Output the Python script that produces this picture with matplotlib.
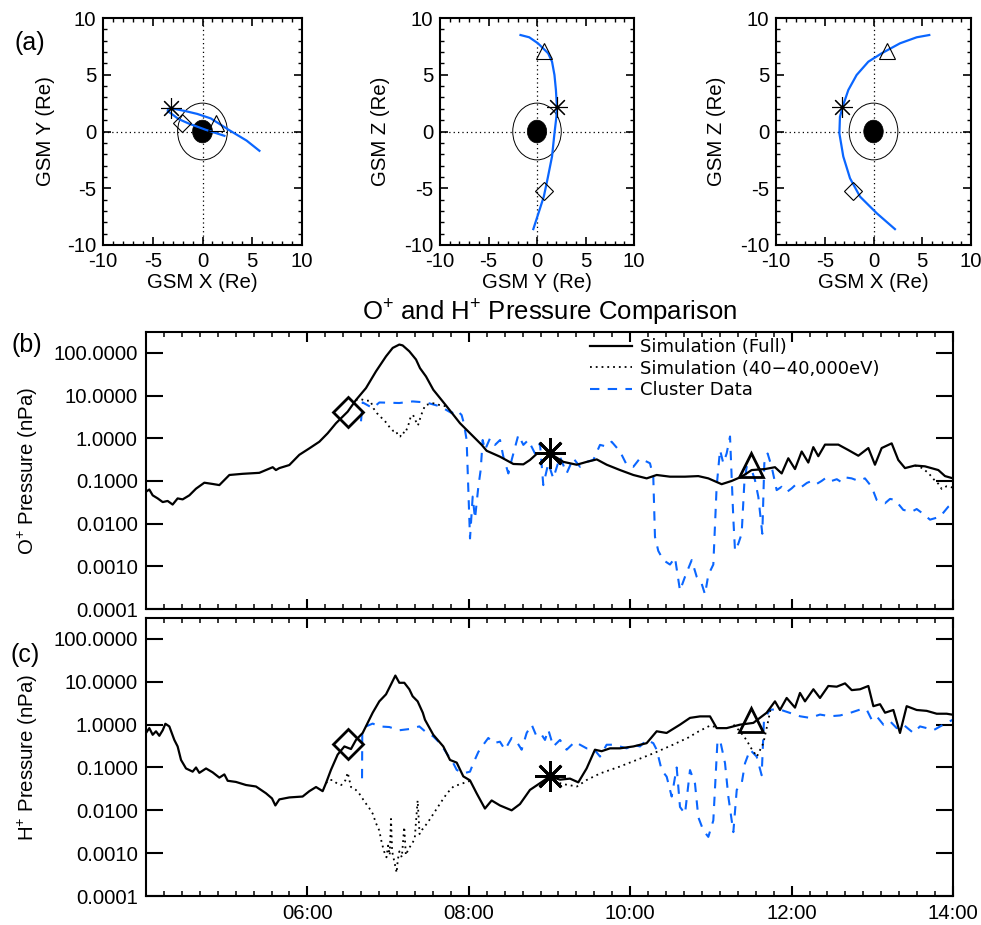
import numpy as np
import matplotlib.pyplot as plt
from matplotlib.patches import Circle
from matplotlib.lines import Line2D
from matplotlib.ticker import MultipleLocator, FixedLocator, FormatStrFormatter, NullLocator, FuncFormatter

plt.rcParams['font.family'] = ['Liberation Sans', 'DejaVu Sans']
plt.rcParams['mathtext.fontset'] = 'custom'
plt.rcParams['mathtext.rm'] = 'Liberation Sans'
plt.rcParams['mathtext.it'] = 'Liberation Sans:italic'
plt.rcParams['axes.unicode_minus'] = False

BLUE = '#0a66ff'

# ---- orbit (GSM, Re) ----
ORBIT_X = [2.2, 0.33, -1.38, -2.41, -3.1, -3.5, -3.44, -3.16, -2.58, -1.73, -0.53, 0.84, 2.72, 4.43, 5.72]
ORBIT_Y = [-0.38, 0.15, 0.7, 1.1, 1.55, 1.8, 2.0, 2.05, 1.95, 1.8, 1.55, 1.15, 0.1, -0.8, -1.7]
ORBIT_Z = [-8.6, -7.2, -5.74, -4.12, -2.2, -0.16, 1.3, 2.2, 3.66, 4.98, 6.15, 6.89, 7.77, 8.3, 8.5]

# marker positions: diamond, star, triangle
MARK_X = [-2.1, -3.2, 1.4]
MARK_Y = [0.75, 2.05, 0.75]
MARK_Z = [-5.2, 2.2, 7.05]
EARTH_R = 1.0
RING_R = 2.5

# ---- O+ pressure (nPa), time in hours UT ----
O_FULL_T = [4.0, 4.041, 4.083, 4.145, 4.207, 4.268, 4.33, 4.392, 4.454, 4.537, 4.62, 4.723, 4.826,
            4.909, 5.033, 5.198, 5.404, 5.57, 5.61, 5.652, 5.776, 5.9, 6.024, 6.148, 6.251, 6.354,
            6.499, 6.602, 6.726, 6.85, 6.974, 7.057, 7.139, 7.18, 7.263, 7.346, 7.395, 7.47, 7.56,
            7.726, 7.891, 8.056, 8.16, 8.221, 8.387, 8.552, 8.676, 8.758, 8.841, 9.006, 9.172,
            9.337, 9.461, 9.585, 9.709, 9.874, 10.039, 10.204, 10.328, 10.493, 10.679, 10.844,
            10.968, 11.133, 11.257, 11.381, 11.505, 11.67, 11.794, 11.877, 11.959, 12.042, 12.125,
            12.207, 12.269, 12.331, 12.414, 12.579, 12.703, 12.827, 12.951, 13.033, 13.116, 13.24,
            13.322, 13.405, 13.529, 13.653, 13.818, 13.901, 14.0]
O_FULL_P = [0.056, 0.063, 0.046, 0.039, 0.032, 0.034, 0.028, 0.039, 0.037, 0.046, 0.066, 0.091, 0.085,
            0.080, 0.138, 0.147, 0.155, 0.21, 0.18, 0.20, 0.236, 0.41, 0.58, 0.83, 1.31, 2.25,
            4.2, 7.9, 15, 37, 83, 131, 157, 150, 109, 70, 44, 28, 13.7,
            5.6, 2.25, 1.1, 0.70, 0.51, 0.37, 0.25, 0.245, 0.31, 0.43, 0.44, 0.28,
            0.24, 0.28, 0.32, 0.24, 0.18, 0.138, 0.115, 0.138, 0.126, 0.126, 0.13,
            0.115, 0.084, 0.10, 0.126, 0.18, 0.19, 0.21, 0.15, 0.34, 0.19, 0.49,
            0.27, 0.62, 0.38, 0.71, 0.71, 0.53, 0.39, 0.59, 0.24, 0.59, 0.76,
            0.31, 0.20, 0.23, 0.22, 0.18, 0.13, 0.115]

# 40-40,000 eV simulation, only where it departs from the full curve (nan = break)
O_SUB_T = [6.60, 6.66, 6.72, 6.78, 6.82, 6.86, 6.92, 6.98, 7.02, 7.06, 7.10, 7.12, 7.15, 7.18, 7.21,
           7.25, 7.28, 7.31, 7.34, 7.37, 7.41, 7.46, 7.56, 7.64, 7.72, np.nan,
           13.53, 13.62, 13.70, 13.76, 13.82, 13.86, 13.92, 14.0]
O_SUB_P = [7.9, 8.3, 7.6, 7.6, 5.0, 3.9, 3.0, 2.3, 1.8, 1.5, 1.5, 1.15, 1.1, 1.4, 1.3,
           2.0, 3.2, 3.5, 2.6, 2.0, 3.5, 6.0, 6.6, 6.0, 5.6, np.nan,
           0.23, 0.20, 0.15, 0.11, 0.085, 0.065, 0.075, 0.07]

O_CLU_T = [6.664, 6.685, 6.809, 6.892, 7.139, 7.304, 7.47, 7.643, 7.788, 7.85, 7.911, 7.94, 7.973,
           8.015, 8.048, 8.077, 8.118, 8.147, 8.172, 8.2, 8.263, 8.325, 8.387, 8.428, 8.49, 8.531,
           8.614, 8.676, 8.737, 8.82, 8.882, 8.923, 8.985, 9.047, 9.13, 9.212, 9.295, 9.378, 9.46,
           9.543, 9.626, 9.708, 9.77, 9.874, 9.956, 10.039, 10.121, 10.245, 10.286, 10.307, 10.348,
           10.41, 10.493, 10.555, 10.617, 10.679, 10.762, 10.824, 10.886, 10.927, 10.968, 11.03,
           11.071, 11.113, 11.154, 11.195, 11.237, 11.278, 11.299, 11.34, 11.381, 11.414, 11.443,
           11.505, 11.546, 11.588, 11.637, 11.662, 11.703, 11.753, 11.815, 11.877, 11.94, 12.001,
           12.06, 12.125, 12.19, 12.249, 12.31, 12.372, 12.43, 12.496, 12.56, 12.62, 12.68, 12.744,
           12.83, 12.909, 12.992, 13.054, 13.157, 13.22, 13.281, 13.384, 13.488, 13.55, 13.612,
           13.715, 13.839, 13.942, 14.0]
O_CLU_P = [2.5, 6.9, 5.1, 6.9, 6.7, 7.3, 6.9, 5.6, 3.9, 4.6, 3.5, 2.2, 0.91,
           0.0045, 0.043, 0.013, 0.073, 0.18, 0.91, 0.53, 1.0, 0.7, 0.91, 0.37, 0.15, 0.31,
           1.2, 0.7, 0.91, 0.44, 0.76, 0.08, 0.26, 0.115, 0.37, 0.15, 0.34, 0.215, 0.28,
           0.31, 0.7, 0.64, 0.83, 0.49, 0.24, 0.215, 0.34, 0.26, 0.126, 0.0049, 0.0023,
           0.0014, 0.0011, 0.0016, 0.00027, 0.00057, 0.0014, 0.00057, 0.00039, 0.00022, 0.00063, 0.0011,
           0.073, 0.53, 0.26, 0.44, 1.1, 0.013, 0.0023, 0.0034, 0.0058, 0.088, 0.215,
           0.18, 0.105, 0.042, 0.0058, 0.26, 0.44, 0.215, 0.061, 0.073, 0.055, 0.067,
           0.085, 0.073, 0.09, 0.1, 0.085, 0.1, 0.12, 0.1, 0.11, 0.093, 0.12, 0.115,
           0.1, 0.115, 0.073, 0.036, 0.03, 0.038, 0.036, 0.021, 0.019, 0.022, 0.018,
           0.0124, 0.0145, 0.025, 0.03]

# ---- H+ pressure (nPa) ----
H_FULL_T = [4.0, 4.041, 4.083, 4.124, 4.165, 4.207, 4.24, 4.289, 4.351, 4.392, 4.434, 4.496, 4.578,
            4.62, 4.661, 4.744, 4.826, 4.909, 4.971, 5.012, 5.115, 5.239, 5.363, 5.487, 5.561, 5.603,
            5.652, 5.776, 5.941, 6.024, 6.107, 6.189, 6.23, 6.292, 6.375, 6.458, 6.54, 6.602, 6.685,
            6.809, 6.891, 6.974, 7.036, 7.09, 7.139, 7.201, 7.263, 7.304, 7.366, 7.43, 7.457, 7.56,
            7.684, 7.767, 7.85, 7.932, 8.015, 8.097, 8.2, 8.283, 8.386, 8.531, 8.634, 8.758, 8.882,
            9.006, 9.13, 9.254, 9.357, 9.46, 9.563, 9.646, 9.75, 9.873, 10.039, 10.204, 10.328,
            10.451, 10.617, 10.741, 10.865, 10.989, 11.072, 11.195, 11.361, 11.526, 11.691, 11.794,
            11.856, 11.939, 12.042, 12.104, 12.166, 12.27, 12.352, 12.455, 12.559, 12.662, 12.745,
            12.848, 12.951, 13.013, 13.096, 13.158, 13.261, 13.343, 13.426, 13.55, 13.674, 13.798,
            13.922, 14.0]
H_FULL_P = [0.64, 0.83, 0.58, 0.70, 0.55, 0.74, 1.05, 0.91, 0.44, 0.31, 0.15, 0.095, 0.08,
            0.10, 0.075, 0.095, 0.077, 0.058, 0.069, 0.049, 0.046, 0.039, 0.036, 0.025, 0.019, 0.013,
            0.018, 0.020, 0.021, 0.028, 0.035, 0.028, 0.043, 0.088, 0.20, 0.31, 0.27, 0.44, 0.64,
            1.9, 3.5, 5.1, 8.7, 14, 9.5, 9.5, 6.7, 4.6, 3.5, 1.9, 1.3, 0.58,
            0.31, 0.15, 0.13, 0.062, 0.05, 0.025, 0.011, 0.017, 0.013, 0.010, 0.014, 0.030, 0.043,
            0.062, 0.052, 0.055, 0.045, 0.095, 0.26, 0.24, 0.28, 0.28, 0.31, 0.37, 0.70,
            0.64, 1.0, 1.44, 1.56, 1.56, 0.83, 0.83, 1.0, 1.1, 1.9, 3.5,
            2.2, 4.2, 2.5, 5.5, 3.5, 6.7, 4.2, 8.0, 7.7, 9.2, 6.4,
            6.7, 8.0, 2.7, 3.0, 1.9, 2.2, 0.64, 2.7, 2.2, 2.1, 1.8,
            1.8, 1.7]

H_SUB_T = [6.23, 6.27, 6.31, 6.37, 6.42, 6.47, 6.50, 6.54, 6.60, 6.64, 6.69, 6.73, 6.77, 6.81, 6.85,
           6.89, 6.92, 6.95, 6.98, 7.00, 7.02, 7.036, 7.05, 7.08, 7.106, 7.12, 7.14, 7.17, 7.20, 7.22,
           7.24, 7.27, 7.30, 7.33, 7.366, 7.39, 7.42, 7.45, 7.50, 7.56, 7.64, 7.73, 7.81, 7.93, 8.03,
           np.nan,
           9.006, 9.07, 9.13, 9.2, 9.34, 9.46, 9.63, 9.87, 10.08, 10.29, 10.53, 10.72, 10.85, 10.99, 11.11,
           np.nan,
           11.28, 11.36, 11.44, 11.50, 11.57, 11.65, 11.70, 11.74]
H_SUB_P = [0.043, 0.051, 0.051, 0.042, 0.039, 0.05, 0.076, 0.035, 0.03, 0.025, 0.018, 0.014, 0.011, 0.0083, 0.005,
           0.0034, 0.0018, 0.0011, 0.0008, 0.0015, 0.0009, 0.0063, 0.0011, 0.0006, 0.00035, 0.0007, 0.0011, 0.0008, 0.0041, 0.0009,
           0.0011, 0.0014, 0.0017, 0.0022, 0.017, 0.0028, 0.0035, 0.0041, 0.0055, 0.0082, 0.014, 0.025, 0.036, 0.043, 0.05,
           np.nan,
           0.062, 0.05, 0.043, 0.04, 0.036, 0.051, 0.073, 0.105, 0.15, 0.215, 0.34, 0.5, 0.7, 0.95, 0.83,
           np.nan,
           1.0, 0.7, 0.44, 0.28, 0.18, 0.37, 1.0, 2.3]

H_CLU_T = [6.677, 6.68, 6.726, 6.809, 6.891, 7.015, 7.139, 7.263, 7.387, 7.457, 7.56, 7.643, 7.726,
           7.808, 7.85, 7.932, 8.015, 8.056, 8.118, 8.18, 8.242, 8.304, 8.386, 8.448, 8.531, 8.593,
           8.655, 8.717, 8.779, 8.84, 8.903, 8.944, 8.985, 9.047, 9.13, 9.212, 9.316, 9.378, 9.46,
           9.543, 9.626, 9.708, 9.791, 9.873, 9.956, 10.039, 10.121, 10.204, 10.286, 10.328, 10.39,
           10.452, 10.514, 10.576, 10.617, 10.679, 10.741, 10.803, 10.844, 10.906, 10.968, 11.03,
           11.08, 11.113, 11.175, 11.216, 11.278, 11.32, 11.381, 11.423, 11.485, 11.567, 11.629,
           11.658, 11.733, 11.856, 11.98, 12.104, 12.228, 12.352, 12.476, 12.6, 12.724, 12.848,
           12.93, 12.992, 13.054, 13.137, 13.22, 13.302, 13.385, 13.509, 13.591, 13.674, 13.757,
           13.88, 14.0]
H_CLU_P = [0.056, 0.70, 0.91, 1.06, 0.91, 0.88, 0.74, 0.79, 0.91, 0.70, 0.53, 0.37, 0.215,
           0.126, 0.088, 0.073, 0.08, 0.126, 0.23, 0.34, 0.49, 0.37, 0.4, 0.26, 0.49, 0.4,
           0.26, 0.64, 1.0, 0.53, 0.58, 0.44, 0.76, 0.31, 0.44, 0.26, 0.4, 0.34, 0.28,
           0.28, 0.18, 0.34, 0.34, 0.31, 0.28, 0.34, 0.31, 0.44, 0.37, 0.26, 0.087,
           0.061, 0.021, 0.1, 0.012, 0.0083, 0.087, 0.042, 0.0069, 0.0034, 0.0024, 0.0058,
           0.37, 0.44, 0.126, 0.021, 0.0031, 0.03, 0.042, 0.126, 0.26, 0.18, 0.066,
           1.31, 2.25, 2.25, 1.88, 1.57, 1.44, 1.72, 1.57, 1.64, 1.88, 2.25,
           2.25, 1.31, 1.57, 1.0, 1.2, 0.83, 1.0, 0.64, 0.91, 0.83, 0.74,
           1.0, 1.31]

# marker times and values: diamond, star, triangle
MARK_T = [6.5, 9.0, 11.5]
MARK_O = [4.2, 0.44, 0.24]
MARK_H = [0.35, 0.062, 1.3]
MARKERS = ['D', (8, 2, 0), '^']

Y_TICKS = [1e-4, 1e-3, 1e-2, 1e-1, 1e0, 1e1, 1e2]
X_TICKS = [6, 8, 10, 12, 14]

fig = plt.figure(figsize=(9.81, 9.25), dpi=100)
W, H = 981.0, 925.0


def px_axes(x0, y0, x1, y1):
    return fig.add_axes([x0 / W, 1 - y1 / H, (x1 - x0) / W, (y1 - y0) / H])


def orbit_panel(ax, h, v, hm, vm, xlabel, ylabel, ylab_x):
    ax.axhline(0, color='k', ls=(0, (1, 2.5)), lw=0.9, zorder=1)
    ax.axvline(0, color='k', ls=(0, (1, 2.5)), lw=0.9, zorder=1)
    ax.add_patch(Circle((0, 0), RING_R, fill=False, ec='k', lw=0.7, zorder=2))
    ax.add_patch(Circle((0, 0), EARTH_R, fc='k', ec='k', lw=0.5, zorder=2))
    ax.plot(h, v, color=BLUE, lw=1.6, zorder=3)
    sizes = [9, 15, 12]
    for xm, ym, mk, ms in zip(hm, vm, MARKERS, sizes):
        ax.plot(xm, ym, marker=mk, ms=ms, mfc='none', mec='k', mew=0.8, ls='none', zorder=4)
    ax.set_xlim(-10, 10)
    ax.set_ylim(-10, 10)
    ax.xaxis.set_major_locator(MultipleLocator(5))
    ax.yaxis.set_major_locator(MultipleLocator(5))
    ax.xaxis.set_minor_locator(MultipleLocator(1))
    ax.yaxis.set_minor_locator(MultipleLocator(1))
    ax.tick_params(which='both', direction='in', top=True, right=True, labelsize=14.7, pad=5)
    ax.tick_params(which='major', length=6, width=1.2)
    ax.tick_params(which='minor', length=3, width=1.0)
    ax.set_xlabel(xlabel, fontsize=14.7)
    ax.set_ylabel(ylabel, fontsize=14.7)
    ax.xaxis.set_label_coords(0.5, -0.125)
    ax.yaxis.set_label_coords(ylab_x, 0.5)
    for s in ax.spines.values():
        s.set_linewidth(1.5)


ax1 = px_axes(103, 18, 302, 245)
orbit_panel(ax1, ORBIT_X, ORBIT_Y, MARK_X, MARK_Y, 'GSM X (Re)', 'GSM Y (Re)', -0.24)
ax2 = px_axes(440, 18, 634, 245)
orbit_panel(ax2, ORBIT_Y, ORBIT_Z, MARK_Y, MARK_Z, 'GSM Y (Re)', 'GSM Z (Re)', -0.258)
ax3 = px_axes(776, 18, 971, 245)
orbit_panel(ax3, ORBIT_X, ORBIT_Z, MARK_X, MARK_Z, 'GSM X (Re)', 'GSM Z (Re)', -0.256)

DASH = (4.5, 4)
DOT = (0, (1, 2.2))


def pressure_panel(ax, ft, fp, st, sp, ct, cp, mv, ylabel, show_x):
    ax.plot(ct, cp, color=BLUE, lw=1.5, dashes=DASH, zorder=2)
    ax.plot(st, sp, color='k', lw=1.3, ls=DOT, zorder=3)
    ax.plot(ft, fp, color='k', lw=1.6, zorder=4)
    sizes = [15, 22, 17]
    for tm, vm_, mk, ms in zip(MARK_T, mv, MARKERS, sizes):
        ax.plot(tm, vm_, marker=mk, ms=ms, mfc='none', mec='k', mew=2.0, ls='none', zorder=5)
    ax.set_yscale('log')
    ax.set_ylim(1e-4, 10 ** 2.49)
    ax.set_xlim(4, 14)
    ax.yaxis.set_major_locator(FixedLocator(Y_TICKS))
    ax.yaxis.set_minor_locator(NullLocator())
    ax.yaxis.set_major_formatter(FormatStrFormatter('%.4f'))
    ax.xaxis.set_major_locator(FixedLocator(X_TICKS))
    ax.xaxis.set_minor_locator(MultipleLocator(2 / 9))
    ax.xaxis.set_major_formatter(FuncFormatter(lambda h, p: '%02d:00' % int(round(h))))
    ax.tick_params(which='both', direction='in', top=True, right=True, labelsize=14.7, pad=6)
    ax.tick_params(axis='y', which='major', length=12, width=1.5)
    ax.tick_params(axis='x', which='major', length=7, width=1.5)
    ax.tick_params(axis='x', which='minor', length=3.5, width=1.1)
    if not show_x:
        ax.tick_params(axis='x', labelbottom=False)
    ax.set_ylabel(ylabel, fontsize=14.7)
    ax.yaxis.set_label_coords(-0.131, 0.5)
    for s in ax.spines.values():
        s.set_linewidth(1.5)


axb = px_axes(146, 332, 953, 609)
pressure_panel(axb, O_FULL_T, O_FULL_P, O_SUB_T, O_SUB_P, O_CLU_T, O_CLU_P, MARK_O,
               'O$^{+}$ Pressure (nPa)', False)
axc = px_axes(146, 618, 953, 896)
pressure_panel(axc, H_FULL_T, H_FULL_P, H_SUB_T, H_SUB_P, H_CLU_T, H_CLU_P, MARK_H,
               'H$^{+}$ Pressure (nPa)', True)

handles = [Line2D([], [], color='k', lw=1.6),
           Line2D([], [], color='k', lw=1.3, ls=DOT),
           Line2D([], [], color=BLUE, lw=1.5, dashes=DASH)]
labels = ['Simulation (Full)', 'Simulation (40\u221240,000eV)', 'Cluster Data']
axb.legend(handles, labels, loc='upper left', bbox_to_anchor=((590 - 146) / 807, (609 - 338) / 277),
           frameon=False, borderpad=0, borderaxespad=0, handlelength=2.3, handletextpad=0.45,
           labelspacing=0.2, prop={'family': 'DejaVu Sans', 'size': 13})

fig.text(549.5 / W, 1 - 313 / H, 'O$^{+}$ and H$^{+}$ Pressure Comparison', ha='center', va='center',
         fontsize=18.5)
fig.text(30 / W, 1 - 43 / H, '(a)', ha='center', va='center', fontsize=18)
fig.text(27 / W, 1 - 345 / H, '(b)', ha='center', va='center', fontsize=18)
fig.text(25 / W, 1 - 655 / H, '(c)', ha='center', va='center', fontsize=18)

fig.savefig('out.png', dpi=100)
